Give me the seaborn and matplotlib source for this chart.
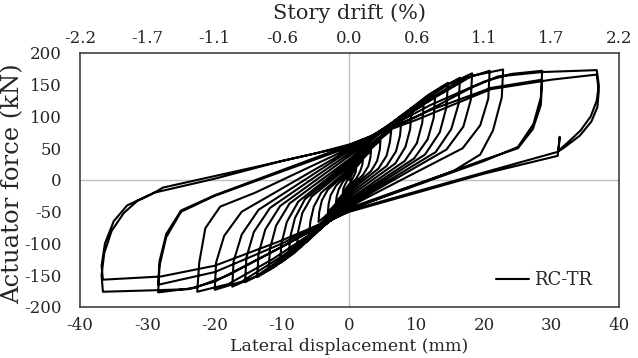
import matplotlib
matplotlib.use("Agg")
import matplotlib.pyplot as plt
import seaborn as sns
import pandas as pd

# ---- data: hysteresis loops (displacement mm, force kN)
loop_01 = [(0, 0), (0.5, 12), (1.0, 18), (0.9, 12), (0.6, 5), (0, -6), (-0.5, -13), (-1.0, -20),
           (-0.9, -13), (-0.6, -6), (0, 6)]
loop_02 = [(1.0, 20), (1.6, 28), (2.0, 32), (1.9, 24), (1.6, 14), (1.0, 2), (0, -9), (-1.0, -22),
           (-1.6, -30), (-2.0, -35), (-1.9, -26), (-1.6, -15), (-1.0, -3), (0, 9)]
loop_03 = [(1.6, 29), (2.6, 40), (3.2, 46), (3.1, 35), (2.8, 22), (2.0, 8), (0, -12), (-1.6, -32),
           (-2.6, -44), (-3.2, -50), (-3.1, -38), (-2.8, -24), (-2.0, -9), (0, 12)]
loop_04 = [(2.3, 40), (3.7, 54), (4.6, 62), (4.5, 48), (4.1, 30), (3.2, 14), (0, -15), (-2.3, -43),
           (-3.7, -58), (-4.6, -66), (-4.5, -51), (-4.1, -32), (-3.2, -15), (0, 15)]
loop_05 = [(3.1, 50), (5.0, 68), (6.2, 78), (6.0, 60), (5.5, 38), (4.3, 18), (0, -18), (-3.0, -55),
           (-4.8, -74), (-6.0, -85), (-5.8, -65), (-5.3, -42), (-4.2, -20), (0, 18)]
loop_06 = [(3.9, 60), (6.2, 81), (7.7, 92), (7.5, 70), (6.9, 45), (5.5, 22), (0, -22), (-3.9, -68),
           (-6.2, -92), (-7.8, -105), (-7.6, -80), (-7.0, -52), (-5.6, -26), (0, 22)]
loop_07 = [(4.6, 68), (7.4, 92), (9.2, 105), (9.0, 80), (8.3, 52), (6.8, 26), (0, -26), (-4.5, -78),
           (-7.2, -104), (-9.0, -118), (-8.8, -90), (-8.1, -60), (-6.6, -30), (0, 26)]
loop_08 = [(5.5, 76), (8.8, 104), (11.0, 118), (10.8, 90), (10.0, 58), (8.2, 30), (0, -30), (-5.2, -86),
           (-8.2, -115), (-10.3, -131), (-10.1, -100), (-9.3, -66), (-7.6, -34), (0, 30)]
loop_09 = [(6.4, 84), (10.2, 114), (12.7, 130), (12.5, 98), (11.6, 64), (9.6, 34), (0, -33), (-6.0, -94),
           (-9.6, -125), (-12.0, -142), (-11.8, -108), (-10.9, -72), (-8.9, -37), (0, 33)]
loop_10 = [(7.3, 98), (11.7, 134), (14.6, 153), (14.4, 115), (13.4, 75), (11.2, 40), (0, -36), (-6.9, -102),
           (-11.0, -136), (-13.7, -153), (-13.5, -116), (-12.5, -78), (-10.3, -41), (0, 38)]
loop_11 = [(8.2, 105), (13.1, 142), (16.4, 161), (16.2, 120), (15.1, 80), (12.8, 44), (0, -38), (-7.8, -108),
           (-12.4, -144), (-15.5, -161), (-15.3, -122), (-14.2, -82), (-11.8, -44), (0, 42)]
loop_12 = [(9.1, 112), (14.6, 150), (18.2, 168), (18.0, 126), (16.9, 84), (14.4, 48), (0, -40), (-8.7, -114),
           (-13.9, -152), (-17.4, -168), (-17.2, -128), (-16.0, -86), (-13.5, -47), (0, 46)]
loop_13 = [(10.4, 118), (16.6, 158), (20.8, 172), (20.6, 128), (19.4, 86), (16.8, 50), (0, -42), (-10.0, -120),
           (-16.0, -160), (-20.0, -173), (-19.8, -130), (-18.6, -88), (-16.0, -50), (0, 48)]
loop_14 = [(11.4, 122), (18.2, 164), (22.8, 174), (22.6, 130), (21.3, 78), (19.4, 40), (15.4, 14), (0, -44),
           (-11.3, -124), (-18.0, -164), (-22.6, -176), (-22.3, -130), (-21.4, -76), (-19.2, -42),
           (-14.0, -20), (0, 50)]
loop_15 = [(12.0, 118), (20.0, 155), (24.0, 167), (28.6, 172), (28.4, 130), (27.3, 88), (25.0, 52), (20.0, 30),
           (0, -46), (-10.0, -105), (-18.0, -150), (-23.0, -170), (-28.4, -177), (-28.2, -135), (-27.2, -90),
           (-25.0, -50), (-20.0, -25), (0, 52)]
loop_15b = [(12.0, 110), (21.0, 145), (28.6, 158), (28.4, 118), (27.2, 80), (25.0, 50), (20.0, 32), (0, -46),
            (-10.0, -100), (-20.0, -145), (-28.4, -165), (-28.2, -128), (-27.2, -85), (-25.0, -48),
            (-20.0, -24), (0, 55)]
loop_16 = [(10.0, 100), (18.0, 145), (22.0, 163), (28.6, 170), (36.7, 173), (37.0, 150), (36.7, 125),
           (35.8, 100), (34.3, 78), (32.5, 60), (30.8, 44), (20.0, 12), (10.0, -18), (0, -48), (-10.0, -105),
           (-20.0, -160), (-24.0, -172), (-30.0, -174), (-36.6, -176), (-36.8, -150), (-36.4, -115),
           (-35.3, -80), (-33.5, -52), (-31.5, -33), (-29.3, -22), (-27.7, -12), (-15.0, 18), (-5.0, 42), (0, 56)]
loop_16b = [(10.0, 95), (21.0, 143), (30.0, 158), (36.7, 166), (37.0, 140), (36.8, 115), (35.9, 92),
            (34.2, 70), (32.0, 52), (31.0, 45), (31.2, 68), (30.9, 38), (20.0, 10), (10.0, -20), (0, -50),
            (-10.0, -95), (-20.0, -135), (-28.0, -152), (-36.6, -157), (-36.8, -135), (-36.3, -100),
            (-35.0, -65), (-33.0, -40), (-29.0, -20), (-20.0, 2), (-10.0, 30), (0, 54)]

loops = [loop_01, loop_02, loop_03, loop_04, loop_05, loop_06, loop_07, loop_08, loop_09,
         loop_10, loop_11, loop_12, loop_13, loop_14, loop_15, loop_15b, loop_16, loop_16b]

x_ticks = [-40, -30, -20, -10, 0, 10, 20, 30, 40]
y_ticks = [-200, -150, -100, -50, 0, 50, 100, 150, 200]
drift_labels = ["-2.2", "-1.7", "-1.1", "-0.6", "0.0", "0.6", "1.1", "1.7", "2.2"]
series_name = "RC-TR"

# ---- build table
disp, force = [], []
for lp in loops:
    for (d, f) in lp:
        disp.append(d)
        force.append(f)
df = pd.DataFrame({"disp": disp, "force": force, "specimen": series_name})

# ---- style
sns.set_theme(style="white")
plt.rcParams["font.family"] = ["DejaVu Serif", "Liberation Serif"]

fig = plt.figure(figsize=(6.38, 3.58), dpi=100)
ax = fig.add_axes([0.1254, 0.1425, 0.8448, 0.7095])

ax.axhline(0, color="#c0c0c0", lw=1.0, zorder=0)
ax.axvline(0, color="#c0c0c0", lw=1.0, zorder=0)

sns.lineplot(data=df, x="disp", y="force", hue="specimen", palette=["black"], sort=False,
             estimator=None, lw=1.5, ax=ax)

ax.set_xlim(-40, 40)
ax.set_ylim(-200, 200)
ax.set_xticks(x_ticks)
ax.set_yticks(y_ticks)
ax.set_xticklabels([str(v) for v in x_ticks], fontsize=12)
ax.set_yticklabels([str(v) for v in y_ticks], fontsize=12)
ax.tick_params(axis="x", length=0, pad=7.5)
ax.tick_params(axis="y", length=0, pad=13)
for s in ax.spines.values():
    s.set_color("#404040")
    s.set_linewidth(1.2)
ax.set_xlabel("Lateral displacement (mm)", fontsize=12.5)
ax.xaxis.set_label_coords(0.5, -0.122)
ax.set_ylabel("Actuator force (kN)", fontsize=17.5)
ax.yaxis.set_label_coords(-0.104, 0.484)

ax2 = ax.twiny()
ax2.set_xlim(-40, 40)
ax2.set_xticks(x_ticks)
ax2.set_xticklabels(drift_labels, fontsize=12)
ax2.tick_params(length=0, pad=4.5)
ax2.set_xlabel("Story drift (%)", fontsize=15)
ax2.xaxis.set_label_coords(0.5, 1.134)
for s in ax2.spines.values():
    s.set_visible(False)

leg = ax.legend(loc="center right", frameon=False, fontsize=13, handlelength=1.83,
                handletextpad=0.28, borderpad=0, borderaxespad=0,
                bbox_to_anchor=(0.95, 0.106))
for ln in leg.get_lines():
    ln.set_linewidth(1.5)

fig.savefig("out.png", dpi=100)
